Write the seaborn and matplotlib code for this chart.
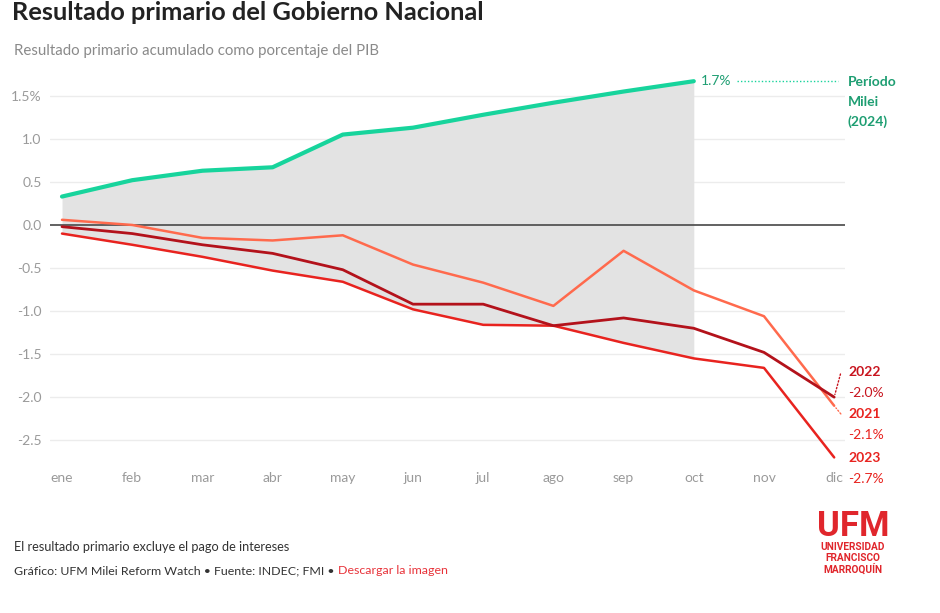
import matplotlib
matplotlib.use("Agg")
import matplotlib.pyplot as plt
import seaborn as sns
import pandas as pd
import numpy as np

months = ["ene", "feb", "mar", "abr", "may", "jun", "jul", "ago", "sep", "oct", "nov", "dic"]
y2024 = [0.33, 0.52, 0.63, 0.67, 1.05, 1.13, 1.28, 1.42, 1.55, 1.67]
y2021 = [0.06, 0.00, -0.15, -0.18, -0.12, -0.46, -0.67, -0.94, -0.30, -0.76, -1.06, -2.10]
y2022 = [-0.02, -0.10, -0.23, -0.33, -0.52, -0.92, -0.92, -1.17, -1.08, -1.20, -1.48, -2.00]
y2023 = [-0.10, -0.23, -0.37, -0.53, -0.66, -0.98, -1.16, -1.17, -1.37, -1.55, -1.66, -2.70]
yticks = [1.5, 1.0, 0.5, 0.0, -0.5, -1.0, -1.5, -2.0, -2.5]
ytick_labels = ["1.5%", "1.0", "0.5", "0.0", "-0.5", "-1.0", "-1.5", "-2.0", "-2.5"]

colors = {"2021": "#ff6a4d", "2022": "#b3121b", "2023": "#e8231f", "2024": "#17d49c"}
label_green = "#1e9e72"

rows = []
for name, vals in [("2021", y2021), ("2022", y2022), ("2023", y2023), ("2024", y2024)]:
    for i, v in enumerate(vals):
        rows.append({"serie": name, "mes": i, "valor": v})
df = pd.DataFrame(rows)

sns.set_style("white")
plt.rcParams["font.family"] = ["Lato", "DejaVu Sans"]

fig = plt.figure(figsize=(9.4, 6.13), dpi=100)
W, H = 940, 613
ax = fig.add_axes([50 / W, 1 - 460 / H, (845 - 50) / W, (460 - 70) / H])

ax.set_xlim(-0.171, 11.154)
ax.set_ylim(-2.73, 1.80)

# grid
for t in yticks:
    if t == 0:
        ax.axhline(t, color="#555555", lw=1.3, zorder=2)
    else:
        ax.axhline(t, color="#ececec", lw=1.0, zorder=0)

# shaded band
n = len(y2024)
lower = np.minimum.reduce([np.array(y2021[:n]), np.array(y2022[:n]), np.array(y2023[:n])])
ax.fill_between(range(n), lower, y2024, color="#e3e3e3", zorder=1, lw=0)

widths = {"2021": 1.8, "2022": 2.0, "2023": 1.8, "2024": 3.0}
for name in ["2021", "2023", "2022", "2024"]:
    sns.lineplot(data=df[df.serie == name], x="mes", y="valor", color=colors[name],
                 lw=widths[name], ax=ax, zorder=3, clip_on=False)

ax.set_xticks(range(12))
ax.set_xticklabels(months)
ax.set_yticks(yticks)
ax.set_yticklabels(ytick_labels)
ax.tick_params(axis="both", length=0, labelsize=10, labelcolor="#9a9a9a")
ax.tick_params(axis="x", pad=9)
ax.tick_params(axis="y", pad=6)
ax.set_xlabel("")
ax.set_ylabel("")
for s in ax.spines.values():
    s.set_visible(False)

# annotations for 2024
ax.text(9 + 0.1, y2024[-1], "1.7%", color=label_green, fontsize=10, va="center", ha="left")
ax.plot([9.62, 11.05], [y2024[-1], y2024[-1]], color=colors["2024"], lw=1, ls=(0, (1, 1.5)))
for k, line in enumerate(["Período", "Milei", "(2024)"]):
    fig.text(848 / W, 1 - (82 + 20 * k) / H, line, color=label_green, fontsize=10,
             fontweight="bold", va="center", ha="left")

# right labels for years
def year_label(y_px, year, val, col):
    fig.text(848 / W, 1 - y_px / H, year, color=col, fontsize=10, fontweight="bold", va="center", ha="left")
    fig.text(848 / W, 1 - (y_px + 21) / H, val, color=col, fontsize=10, va="center", ha="left")

year_label(372, "2022", "-2.0%", "#c8141e")
year_label(414, "2021", "-2.1%", "#e8231f")
year_label(458, "2023", "-2.7%", "#e8231f")
# small dotted connectors
ax.annotate("", xy=(11.0, -2.0), xytext=(11.1, -1.7),
            arrowprops=dict(arrowstyle="-", color="#c8141e", lw=1, ls=(0, (1, 1.5))))
ax.annotate("", xy=(11.0, -2.1), xytext=(11.12, -2.22),
            arrowprops=dict(arrowstyle="-", color="#ff6a4d", lw=1, ls=(0, (1, 1.5))))

# titles
fig.text(12 / W, 1 - 13 / H, "Resultado primario del Gobierno Nacional", fontsize=18.3,
         fontweight="bold", color="#222222", va="center", ha="left")
fig.text(14 / W, 1 - 51 / H, "Resultado primario acumulado como porcentaje del PIB", fontsize=10.8,
         color="#8a8a8a", va="center", ha="left")

# footer
fig.text(14 / W, 1 - 547 / H, "El resultado primario excluye el pago de intereses", fontsize=9.2,
         color="#333333", va="center", ha="left")
t1 = fig.text(14 / W, 1 - 571 / H, "Gráfico: UFM Milei Reform Watch • Fuente: INDEC; FMI • ", fontsize=8.95,
              color="#333333", va="center", ha="left")
fig.canvas.draw()
bb = t1.get_window_extent()
fig.text(bb.x1 / W, 1 - 571 / H, "Descargar la imagen", fontsize=8.95, color="#e8333a", va="center", ha="left")

# logo
fig.text(853 / W, 1 - 527 / H, "UFM", fontsize=25, fontweight="bold", color="#e0262c",
         va="center", ha="center", family=["Roboto", "DejaVu Sans"])
for k, line in enumerate(["UNIVERSIDAD", "FRANCISCO", "MARROQUÍN"]):
    fig.text(853 / W, 1 - (547 + k * 11) / H, line, fontsize=7.3, fontweight="bold", color="#e0262c",
             va="center", ha="center", family=["Roboto", "DejaVu Sans"])

fig.savefig("out.png", dpi=100)
